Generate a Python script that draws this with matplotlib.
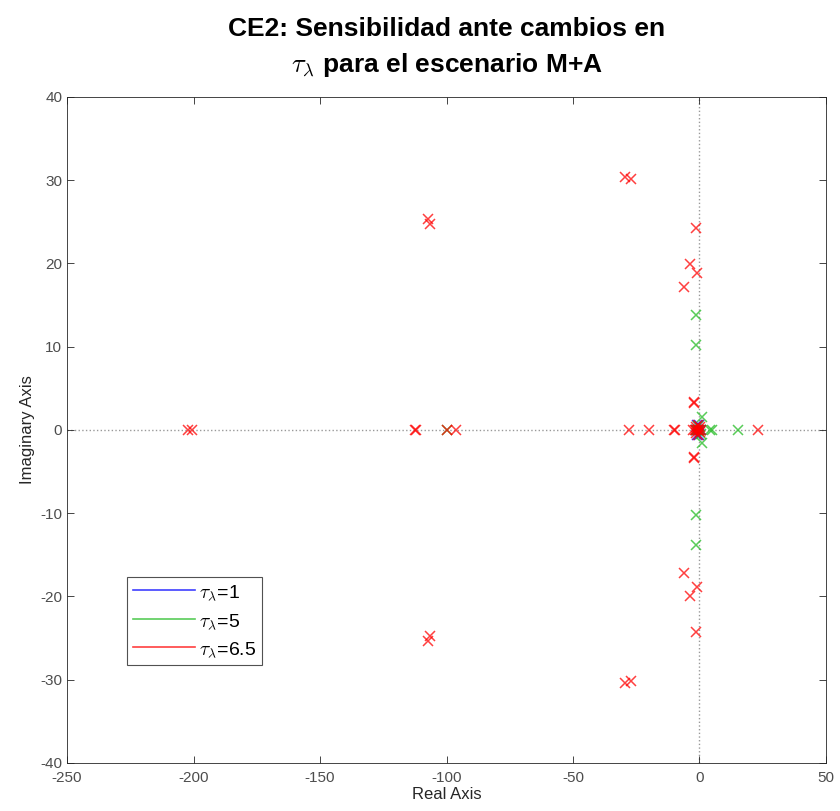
# Mapa de polos: sensibilidad ante cambios en tau_lambda

import matplotlib.pyplot as plt
import numpy as np

plt.rcParams['font.family'] = ['Liberation Sans', 'DejaVu Sans']
plt.rcParams['mathtext.fontset'] = 'cm'
plt.rcParams['axes.unicode_minus'] = False

# polos (parte real, parte imaginaria) para cada tau_lambda
re_tau1 = [-1.5, -1.0, -0.5, 0.0, 0.5, -1.0, -1.0, 0.0, 0.0]
im_tau1 = [0.0, 0.0, 0.0, 0.0, 0.0, 0.6, -0.6, 0.6, -0.6]

re_tau5 = [-100.0, 15.3, 4.8, 4.2, 0.8, 0.8, -1.3, -1.3, -1.3, -1.3,
           -1.5, -0.8, 0.2, -0.5, 0.5]
im_tau5 = [0.0, 0.0, 0.0, 0.0, 1.6, -1.6, 13.8, -13.8, 10.2, -10.2,
           0.0, 0.0, 0.0, 0.5, -0.5]

re_tau65 = [-202.0, -200.5, -107.3, -107.3, -106.6, -106.6,
            -29.4, -29.4, -27.1, -27.1, -112.4, -112.0, -100.0, -96.2,
            -27.9, -20.0, -10.2, -9.8, 23.0, -2.2, -2.2, -2.0, -2.0,
            -1.5, -1.5, -3.8, -3.8, -0.8, -0.8, -6.0, -6.0,
            -2.5, -1.8, -1.2, -0.6, 0.0, 0.5, -1.5, -1.5, -0.5, -0.5, 0.3, 0.3]
im_tau65 = [0.0, 0.0, 25.3, -25.3, 24.8, -24.8,
            30.4, -30.4, 30.1, -30.1, 0.0, 0.0, 0.0, 0.0,
            0.0, 0.0, 0.0, 0.0, 0.0, 3.4, -3.4, 3.2, -3.2,
            24.3, -24.3, 19.9, -19.9, 18.9, -18.9, 17.2, -17.2,
            0.0, 0.0, 0.0, 0.0, 0.0, 0.0, 0.4, -0.4, 0.6, -0.6, 0.3, -0.3]

labels = [r'$\tau_\lambda$=1', r'$\tau_\lambda$=5', r'$\tau_\lambda$=6.5']
colores = ['#0000ff', '#22bb22', '#ff0000']

fig = plt.figure(figsize=(8.4, 8.11), dpi=100)
ax = fig.add_axes([0.0798, 0.0592, 0.9035, 0.8212])

ax.axhline(0, color='#999999', ls=':', lw=1, zorder=0)
ax.axvline(0, color='#999999', ls=':', lw=1, zorder=0)

series = [(re_tau1, im_tau1), (re_tau5, im_tau5), (re_tau65, im_tau65)]
for (re, im), lab, c in zip(series, labels, colores):
    ax.plot(re, im, ls='none', marker='x', ms=7.5, mew=1.1, color=c, alpha=0.75)
    ax.plot([], [], color=c, lw=1.2, alpha=0.75, label=lab)

ax.set_xlim(-250, 50)
ax.set_ylim(-40, 40)
ax.set_xticks(np.arange(-250, 51, 50))
ax.set_yticks(np.arange(-40, 41, 10))
ax.tick_params(direction='in', top=True, right=True, labelsize=11,
               colors='#262626', labelcolor='#4d4d4d', length=5, width=0.6)
ax.tick_params(axis='x', pad=6)
for s in ax.spines.values():
    s.set_color('#262626')
    s.set_linewidth(0.6)

ax.set_xlabel('Real Axis', fontsize=12, color='#262626', labelpad=1)
ax.set_ylabel('Imaginary Axis', fontsize=12, color='#262626', labelpad=4)
ax.set_title('CE2: Sensibilidad ante cambios en\n' + r'$\tau_\lambda$' + ' para el escenario M+A',
             fontsize=19, fontweight='bold', pad=18, linespacing=1.5)

leg = ax.legend(loc='lower left', bbox_to_anchor=(0.079, 0.147), fontsize=14,
                frameon=True, fancybox=False, edgecolor='#262626',
                handlelength=3.2, handletextpad=0.2, borderpad=0.3,
                labelspacing=0.5, borderaxespad=0)
leg.get_frame().set_linewidth(0.8)

fig.savefig('out.png', dpi=100)
